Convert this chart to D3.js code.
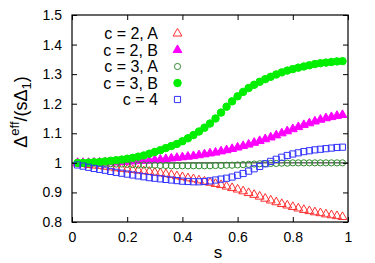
<!DOCTYPE html>
<html><head><meta charset="utf-8">
<script src="https://cdn.jsdelivr.net/npm/d3@7"></script>
<style>body{margin:0;background:#fff}svg{display:block;font-family:"Liberation Sans",Arial,sans-serif}</style>
</head><body><svg id="c" width="375" height="263"></svg>
<script>
const sValues = d3.range(1, 50).map(k => +(k * 0.02).toFixed(2));
const c2A = [0.998,0.996,0.993,0.991,0.990,0.987,0.985,0.982,0.980,0.978,0.976,0.974,0.972,0.970,0.967,0.965,0.962,0.959,0.955,0.952,0.948,0.945,0.941,0.937,0.933,0.929,0.925,0.920,0.915,0.910,0.904,0.898,0.892,0.886,0.879,0.873,0.867,0.861,0.856,0.851,0.846,0.841,0.837,0.833,0.830,0.826,0.823,0.820,0.817];
const c2B = [1.000,1.000,1.000,1.001,1.001,1.001,1.002,1.002,1.003,1.004,1.005,1.006,1.007,1.008,1.010,1.011,1.013,1.015,1.017,1.019,1.021,1.023,1.026,1.029,1.032,1.035,1.039,1.043,1.047,1.052,1.057,1.062,1.068,1.074,1.080,1.086,1.093,1.100,1.107,1.114,1.121,1.128,1.134,1.140,1.146,1.151,1.155,1.159,1.162];
const c3A = [1.000,1.000,0.999,0.999,0.998,0.998,0.997,0.996,0.996,0.995,0.994,0.993,0.993,0.992,0.992,0.991,0.991,0.990,0.990,0.990,0.990,0.990,0.990,0.990,0.990,0.991,0.991,0.992,0.992,0.993,0.994,0.995,0.996,0.997,0.997,0.998,0.998,0.999,0.999,1.000,1.000,1.000,1.000,1.000,1.000,1.000,1.000,1.000,1.000];
const c3B = [1.000,1.000,1.001,1.002,1.003,1.005,1.007,1.009,1.011,1.014,1.017,1.021,1.025,1.031,1.037,1.043,1.050,1.057,1.064,1.073,1.083,1.094,1.106,1.119,1.133,1.150,1.170,1.190,1.208,1.225,1.240,1.253,1.264,1.274,1.283,1.291,1.299,1.306,1.312,1.317,1.322,1.326,1.330,1.334,1.337,1.339,1.341,1.343,1.344];
const c4 = [0.993,0.989,0.985,0.981,0.978,0.975,0.971,0.968,0.965,0.962,0.959,0.956,0.953,0.950,0.948,0.946,0.944,0.942,0.940,0.938,0.937,0.936,0.936,0.937,0.939,0.942,0.945,0.948,0.952,0.958,0.964,0.972,0.980,0.988,0.997,1.005,1.012,1.019,1.025,1.030,1.034,1.038,1.041,1.044,1.046,1.048,1.050,1.052,1.053];
const seriesNames = ["c = 2, A","c = 2, B","c = 3, A","c = 3, B","c = 4"];
const xTicks = [0,0.2,0.4,0.6,0.8,1];
const yTicks = [0.8,0.9,1,1.1,1.2,1.3,1.4,1.5];

const svg = d3.select("#c");
const L=72,R=348,T=15,B=222;
const x = d3.scaleLinear().domain([0,1]).range([L,R]);
const y = d3.scaleLinear().domain([0.8,1.5]).range([B,T]);

svg.append("line").attr("x1",L).attr("x2",R).attr("y1",y(1)).attr("y2",y(1)).attr("stroke","#222").attr("stroke-width",1);

const styles = [
  {data:c2A, sym:d3.symbolTriangle, size:34, fill:"none", stroke:"#ff3030"},
  {data:c2B, sym:d3.symbolTriangle, size:34, fill:"#ff00ff", stroke:"#ff00ff"},
  {data:c3A, sym:d3.symbolCircle, size:30, fill:"none", stroke:"#2e8b2e"},
  {data:c3B, sym:d3.symbolCircle, size:44, fill:"#00ee00", stroke:"#00ee00"},
  {data:c4, sym:d3.symbolSquare, size:38, fill:"none", stroke:"#3333ff"}
];
styles.forEach(st => {
  const path = d3.symbol().type(st.sym).size(st.size)();
  svg.append("g").selectAll("path").data(st.data).join("path")
    .attr("d", path)
    .attr("transform",(d,i)=>`translate(${x(sValues[i])},${y(d)})`)
    .attr("fill",st.fill).attr("stroke",st.stroke).attr("stroke-width",1);
});

svg.append("rect").attr("x",L).attr("y",T).attr("width",R-L).attr("height",B-T).attr("fill","none").attr("stroke","#000").attr("stroke-width",1.2);

const xb = svg.append("g").attr("transform",`translate(0,${B})`).call(d3.axisBottom(x).tickValues(xTicks).tickSize(-5).tickPadding(10).tickFormat(d3.format("")));
const xt = svg.append("g").attr("transform",`translate(0,${T})`).call(d3.axisTop(x).tickValues(xTicks).tickSize(-5).tickFormat(""));
const yl = svg.append("g").attr("transform",`translate(${L},0)`).call(d3.axisLeft(y).tickValues(yTicks).tickSize(-5).tickPadding(10).tickFormat(d3.format("")));
const yr = svg.append("g").attr("transform",`translate(${R},0)`).call(d3.axisRight(y).tickValues(yTicks).tickSize(-5).tickFormat(""));
[xb,xt,yl,yr].forEach(g=>{g.select(".domain").remove();g.selectAll("line").attr("stroke","#000");
  g.selectAll("text").attr("font-size",14).attr("fill","#000").attr("font-family","Liberation Sans, Arial, sans-serif");});

const legY=[33.5,50,66.5,83,99.5];
styles.forEach((st,i)=>{
  svg.append("text").attr("x",158).attr("y",legY[i]).attr("dy","0.35em").attr("text-anchor","end").attr("font-size",16).text(seriesNames[i]);
  svg.append("path").attr("d",d3.symbol().type(st.sym).size(st.size)()).attr("transform",`translate(177.5,${legY[i]})`)
    .attr("fill",st.fill).attr("stroke",st.stroke);
});

svg.append("text").attr("x",(L+R)/2+8).attr("y",258).attr("text-anchor","middle").attr("font-size",17).text("s");
const yl2 = svg.append("text").attr("transform","translate(27,112) rotate(-90)").attr("text-anchor","middle").attr("font-size",18);
yl2.append("tspan").text("Δ");
yl2.append("tspan").attr("dy",-8).attr("font-size",13).text("eff");
yl2.append("tspan").attr("dy",8).text("/(sΔ");
yl2.append("tspan").attr("dy",4).attr("font-size",13).text("1");
yl2.append("tspan").attr("dy",-4).text(")");
</script></body></html>
